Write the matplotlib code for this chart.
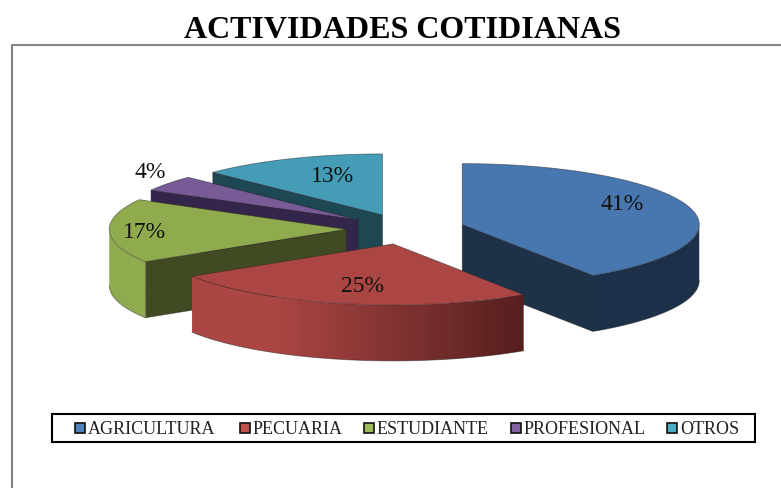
import numpy as np
import matplotlib
matplotlib.use("Agg")
import matplotlib.pyplot as plt
from matplotlib.colors import to_rgb
from matplotlib.patches import Polygon, Rectangle

# ── Data ──────────────────────────────────────────────────────────────────────
categories = ["AGRICULTURA", "PECUARIA", "ESTUDIANTE", "PROFESIONAL", "OTROS"]
values     = [40.7, 25.4, 17.0, 4.2, 12.7]
top_colors = ["#4877b0", "#ab4644", "#8fab4e", "#785a96", "#449cb6"]
side_dark  = ["#1d3149", "#561f1e", "#414b23", "#33264a", "#1c4753"]
key_colors = ["#4f81bd", "#c0504d", "#9bbb59", "#8064a2", "#4bacc6"]

# pixel layout of the fake 3D pie
CX, CY = 405.5, 229
RX, RY = 237, 61
DEPTH  = 56
EXPLODE = 0.25
DRAW_ORDER = [4, 3, 2, 0, 1]
label_xy = [(622, 205), (362, 287), (144, 233), (150, 172), (332, 177)]


def arc(cx, cy, a1, a2, n=120):
    t = np.radians(np.linspace(a1, a2, n))
    return np.column_stack([cx + RX * np.sin(t), cy - RY * np.cos(t)])


def wall_strip(i, x0, x1, cx, n=200):
    # light on the left of the pie, dark on the right
    sin_t = (np.linspace(x0, x1, n) - cx) / RX
    k = np.interp(sin_t, [-0.5, 0.55], [0, 1])[None, :, None]
    base, dark = np.array(to_rgb(top_colors[i])), np.array(to_rgb(side_dark[i]))
    return base + (dark - base) * k


fig = plt.figure(figsize=(7.81, 4.88), dpi=100)
ax = fig.add_axes([0, 0, 1, 1])
ax.axis("off")

# chart frame, open at the bottom and right like the cropped original
ax.plot([12, 12, 781], [488, 45, 45], color="#858585", lw=1.5, solid_capstyle="butt")

# ── Slices ────────────────────────────────────────────────────────────────────
edges = np.concatenate([[0], np.cumsum(values)]) / np.sum(values) * 360
line  = dict(edgecolor="#20202080", linewidth=0.6)

for z, i in enumerate(DRAW_ORDER):
    a1, a2 = edges[i], edges[i + 1]
    mid = np.radians((a1 + a2) / 2)
    cx = CX + EXPLODE * RX * np.sin(mid)
    cy = CY - EXPLODE * RY * np.cos(mid)
    zo = 2 + z

    # radial walls that face the viewer
    for a, visible in ((a1, np.sin(np.radians(a1)) < -1e-6), (a2, np.sin(np.radians(a2)) > 1e-6)):
        if visible:
            p = arc(cx, cy, a, a, 1)[0]
            ax.add_patch(Polygon([(cx, cy), p, p + (0, DEPTH), (cx, cy + DEPTH)],
                                 facecolor=side_dark[i], zorder=zo, **line))

    # outer wall, only the front half of the ellipse
    lo, hi = max(a1, 90), min(a2, 270)
    if hi > lo:
        seg = arc(cx, cy, lo, hi)
        shape = Polygon(np.vstack([seg, seg[::-1] + (0, DEPTH)]), transform=ax.transData,
                        facecolor="none", edgecolor="none")
        ax.add_patch(shape)
        x0, x1 = seg[:, 0].min(), seg[:, 0].max()
        y0, y1 = seg[:, 1].min(), seg[:, 1].max() + DEPTH
        im = ax.imshow(wall_strip(i, x0, x1, cx), extent=(x0, x1, y1, y0), aspect="auto",
                       interpolation="bilinear", zorder=zo)
        im.set_clip_path(shape)
        ax.plot(seg[:, 0], seg[:, 1] + DEPTH, color="#20202080", lw=0.6, zorder=zo)

    # top face
    ax.add_patch(Polygon(np.vstack([[(cx, cy)], arc(cx, cy, a1, a2)]),
                         facecolor=top_colors[i], zorder=zo, **line))

for v, (x, y) in zip(values, label_xy):
    ax.text(x, y, f"{round(v)}%", family="Liberation Serif", fontsize=17, ha="center", va="center",
            color="#111111", zorder=10)

# ── Title and legend ──────────────────────────────────────────────────────────
ax.text(403, 30, "ACTIVIDADES COTIDIANAS", family="Liberation Serif", fontsize=23,
        fontweight="bold", ha="center", va="center", color="black")

ax.add_patch(Rectangle((52, 414), 703, 28, facecolor="white", edgecolor="black", lw=1.5, zorder=8))
key_x = [75, 240, 364, 511, 667]
for name, c, x in zip(categories, key_colors, key_x):
    ax.add_patch(Rectangle((x, 423), 10, 10, facecolor=c, edgecolor="#111111", lw=1.2, zorder=9))
    ax.text(x + 13, 429.5, name, family="Liberation Serif", fontsize=13, ha="left", va="center",
            color="#222222", zorder=9)

ax.set_xlim(0, 781); ax.set_ylim(488, 0)
fig.savefig("out.png", dpi=100)
